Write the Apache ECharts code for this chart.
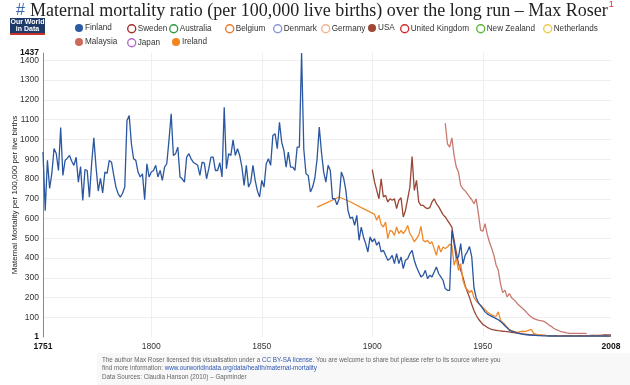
<!DOCTYPE html>
<html><head><meta charset="utf-8">
<script src="https://cdn.jsdelivr.net/npm/echarts@6/dist/echarts.min.js"></script>
<style>html,body{margin:0;padding:0;background:#fff}#c{width:630px;height:385px}</style>
</head><body><div id="c"></div>
<script>
// ---------- DATA ----------
const xTickLabels = [1751, 1800, 1850, 1900, 1950, 2008];
const xGridYears = [1800, 1850, 1900, 1950];
const yTickLabels = [1, 100, 200, 300, 400, 500, 600, 700, 800, 900, 1000, 1100, 1200, 1300, 1400];
const yMaxLabel = [1437];
const yGridValues = [100, 200, 300, 400, 500, 600, 700, 800, 900, 1000, 1100, 1200, 1300, 1400];

const legendNames = ['Finland','Sweden','Australia','Belgium','Denmark','Germany','USA','United Kingdom','New Zealand','Netherlands','Malaysia','Japan','Ireland'];
const legendShown = ['Finland','USA','Malaysia','Ireland'];

const finlandStart = 1751;
const finlandValues = [
 936,640,894,752,828,954,929,843,1060,818,
 894,905,919,890,869,910,784,863,692,848,
 843,708,877,1008,860,739,803,730,835,828,
 894,885,820,759,725,708,728,759,1096,1121,
 978,902,894,835,810,826,695,877,810,835,
 843,869,810,843,793,860,877,995,1130,919,
 928,961,810,801,784,911,928,902,885,877,
 869,818,885,880,801,852,911,911,843,843,
 882,810,1163,852,928,919,998,919,953,919,
 860,768,869,759,784,869,793,740,709,793,
 759,877,902,869,1020,1029,953,1087,986,944,
 860,936,860,860,843,961,961,1437,950,826,
 818,734,759,805,900,1062,935,835,784,869,
 843,700,700,670,700,835,805,745,640,600,
 608,566,616,490,557,507,473,431,507,482,
 498,465,482,431,440,414,389,397,414,372,
 423,372,406,347,389,397,423,439,389,355,
 330,305,313,338,296,313,305,330,355,322,
 305,288,246,237,237,540,473,400,406,473,
 370,414,433,458,406,250,200,175,160,145,
 128,118,111,105,100,94,88,80,69,58,
 48,36,31,27,23,20,18,15,13,12,
 11,10,9,9,8,8,7,7,7,6,
 6,6,6,5,5,5,6,5,5,6,
 5,5,5,6,5,5,5,6,5,6,
 5,6,7,5,6,6,5,7
];

const irelandEarlyYears = [1875, 1880, 1885, 1890, 1895];
const irelandEarlyValues = [658, 683, 709, 685, 655];
const irelandStart = 1900;
const irelandValues = [
 627,621,591,617,570,557,582,498,540,535,
 515,557,524,540,524,540,565,524,507,482,
 498,515,560,490,482,490,473,482,448,414,
 465,431,456,448,456,470,465,364,400,338,
 372,288,254,240,226,237,200,183,172,162,
 150,140,128,120,112,108,106,128,86,75,
 65,50,39,33,29,27,26,28,30,28,
 32,36,39,19,15,12,11,10,9,8,
 8,7,7,6,6,6,5,6,5,5,
 5,6,5,5,5,6,5,5,6,5,
 5,5,6,5,5,5,4,5,5
];

const usaStart = 1900;
const usaValues = [
 847,785,742,700,801,709,717,684,700,692,
 700,650,692,705,608,641,700,759,914,742,
 793,684,667,667,655,650,655,684,700,675,
 660,640,620,608,591,574,557,490,430,372,
 338,305,260,230,200,165,135,111,92,78,
 65,58,50,44,40,37,35,33,32,30,
 29,28,27,24,23,22,20,18,16,15,
 14,13,12,11,10,10,9,9,9,8,
 8,8,8,8,8,8,8,8,8,8,
 8,8,8,8,8,8,8,8,8,9,
 9,9,9,9,10,11,11,12,12
];

const malaysiaStart = 1933;
const malaysiaValues = [
 1082,978,961,1008,919,860,835,768,751,740,
 725,709,695,675,700,625,541,536,574,520,
 480,450,415,365,338,271,225,238,204,221,
 200,190,179,165,155,145,135,123,111,102,
 94,90,86,84,82,78,70,61,55,45,
 39,35,30,27,25,22,20,19,19,19,
 19,19,19,19,18
];

// ---------- STYLE ----------
const colors = {
  'Finland':'#2c5ba3','Sweden':'#a52a2a','Australia':'#2e9a3a','Belgium':'#e8782a','Denmark':'#8797d6',
  'Germany':'#f2b48c','USA':'#9e4836','United Kingdom':'#d42a2a','New Zealand':'#5cb83a','Netherlands':'#efc84e',
  'Malaysia':'#cc6a5e','Japan':'#b468cc','Ireland':'#f5841f'
};
const lineColors = {'Finland':'#2a57a0','Ireland':'#ef8a2a','USA':'#9a4535','Malaysia':'#c97a70'};

function annual(start, vals){ return vals.map((v,i)=>[start+i, v]); }
const seriesData = {
  'Finland': annual(finlandStart, finlandValues),
  'Ireland': irelandEarlyYears.map((y,i)=>[y, irelandEarlyValues[i]]).concat(annual(irelandStart, irelandValues)),
  'USA': annual(usaStart, usaValues),
  'Malaysia': annual(malaysiaStart, malaysiaValues)
};

const series = legendNames.map(n => ({
  name: n, type: 'line', showSymbol: false, symbol: 'none',
  data: seriesData[n] || [],
  lineStyle: {width: 1.3, color: lineColors[n] || colors[n]},
  itemStyle: {color: colors[n]},
  z: n==='Finland' ? 4 : 3,
  emphasis: {disabled: true}
}));

const legendPos = {
  'Finland':[75,24],'Sweden':[127,24],'Australia':[169,24],'Belgium':[225,24],'Denmark':[273,24],
  'Germany':[321,24],'USA':[368,24],'United Kingdom':[400,24],'New Zealand':[476,24],'Netherlands':[543,24],
  'Malaysia':[75,38],'Japan':[127,38],'Ireland':[172,38]
};
const legends = legendNames.map(n => {
  const filled = legendShown.indexOf(n) >= 0;
  return {
    left: legendPos[n][0], top: legendPos[n][1], padding: 0,
    itemWidth: 8, itemHeight: 8, icon: 'circle',
    textStyle: {fontFamily: 'Liberation Sans', fontSize: 8.2, color: '#333', padding: [1,0,0,-3]},
    data: [{name: n, icon: 'circle', itemStyle: filled ? {color: colors[n], borderWidth: 0} : {color: '#fff', borderColor: colors[n], borderWidth: 1.4}}],
    selectedMode: false
  };
});

const labelFont = {fontFamily: 'Liberation Sans', fontSize: 8.5, color: '#333'};
const boldRich = {b: {fontFamily: 'Liberation Sans', fontSize: 8.5, fontWeight: 'bold', color: '#111'}};

const chart = echarts.init(document.getElementById('c'), null, {renderer: 'canvas'});
chart.setOption({
  animation: false,
  backgroundColor: '#fff',
  title: {
    left: 16, top: 0, padding: 0,
    text: '{h|#} {t|Maternal mortality ratio (per 100,000 live births) over the long run – Max Roser}{s|1}',
    textStyle: {
      fontWeight: 'normal',
      rich: {
        h: {fontFamily: 'Liberation Sans', fontSize: 16, fontWeight: 'normal', color: '#3a66b0', lineHeight: 22},
        t: {fontFamily: 'Liberation Serif', fontSize: 18, fontWeight: 'normal', color: '#222', lineHeight: 22},
        s: {fontFamily: 'Liberation Sans', fontSize: 9, fontWeight: 'normal', color: '#e03030', verticalAlign: 'top', lineHeight: 22, padding: [0,0,8,1]}
      }
    }
  },
  legend: legends,
  grid: {left: 43, right: 19, top: 53, bottom: 48, containLabel: false},
  xAxis: {
    type: 'value', min: 1751, max: 2008,
    axisLine: {show: false},
    axisTick: {show: false, customValues: xGridYears},
    splitLine: {show: true, lineStyle: {color: '#efefef', width: 1}},
    axisLabel: Object.assign({
      customValues: xTickLabels, margin: 5, hideOverlap: false, showMinLabel: true, showMaxLabel: true,
      formatter: v => (v === 1751 || v === 2008) ? '{b|' + v + '}' : String(v),
      rich: boldRich
    }, labelFont)
  },
  yAxis: [{
    type: 'value', min: 1, max: 1437,
    name: 'Maternal Mortality per 100,000 per live births',
    nameLocation: 'middle', nameGap: 28, nameRotate: 90, nameMoveOverlap: false,
    nameTextStyle: {fontFamily: 'Liberation Sans', fontSize: 8, color: '#222', verticalAlign: 'middle'},
    axisLine: {show: true, lineStyle: {color: '#8a8a8a', width: 1}},
    axisTick: {show: false, customValues: yGridValues},
    splitLine: {show: true, lineStyle: {color: '#efefef', width: 1}},
    axisLabel: Object.assign({
      customValues: yTickLabels, margin: 4, hideOverlap: false, showMinLabel: true, showMaxLabel: true,
      formatter: v => (v === 1) ? '{b|' + v + '}' : String(v),
      rich: boldRich
    }, labelFont)
  }, {
    type: 'value', min: 1, max: 1437, position: 'left',
    axisLine: {show: false}, axisTick: {show: false, customValues: yMaxLabel}, splitLine: {show: false},
    axisLabel: Object.assign({
      customValues: yMaxLabel, margin: 4, hideOverlap: false, showMaxLabel: true,
      formatter: v => '{b|' + v + '}',
      rich: boldRich
    }, labelFont)
  }],
  graphic: [
    {type: 'rect', left: 10, top: 18, shape: {width: 35, height: 15}, style: {fill: '#1d3a68'}},
    {type: 'rect', left: 10, top: 33, shape: {width: 35, height: 2}, style: {fill: '#c8322a'}},
    {type: 'text', x: 27.5, y: 22.5, style: {text: 'Our World', fill: '#fff', font: 'bold 7px "Liberation Sans"', align: 'center', verticalAlign: 'middle'}},
    {type: 'text', x: 27.5, y: 29, style: {text: 'in Data', fill: '#fff', font: 'bold 7px "Liberation Sans"', align: 'center', verticalAlign: 'middle'}},
    {type: 'rect', left: 97, top: 353, shape: {width: 533, height: 32}, style: {fill: '#f8f8f8'}},
    {type: 'text', x: 102, y: 356, style: {
      text: 'The author Max Roser licensed this visualisation under a {l|CC BY-SA license}. You are welcome to share but please refer to its source where you\nfind more information: {l|www.ourworldindata.org/data/health/maternal-mortality}\nData Sources: Claudia Hanson (2010) – Gapminder',
      font: '6.3px "Liberation Sans"', fill: '#666', lineHeight: 8.5,
      rich: {l: {fill: '#2a55b0', font: '6.3px "Liberation Sans"'}}
    }}
  ],
  series: series
});
</script>
</body></html>
